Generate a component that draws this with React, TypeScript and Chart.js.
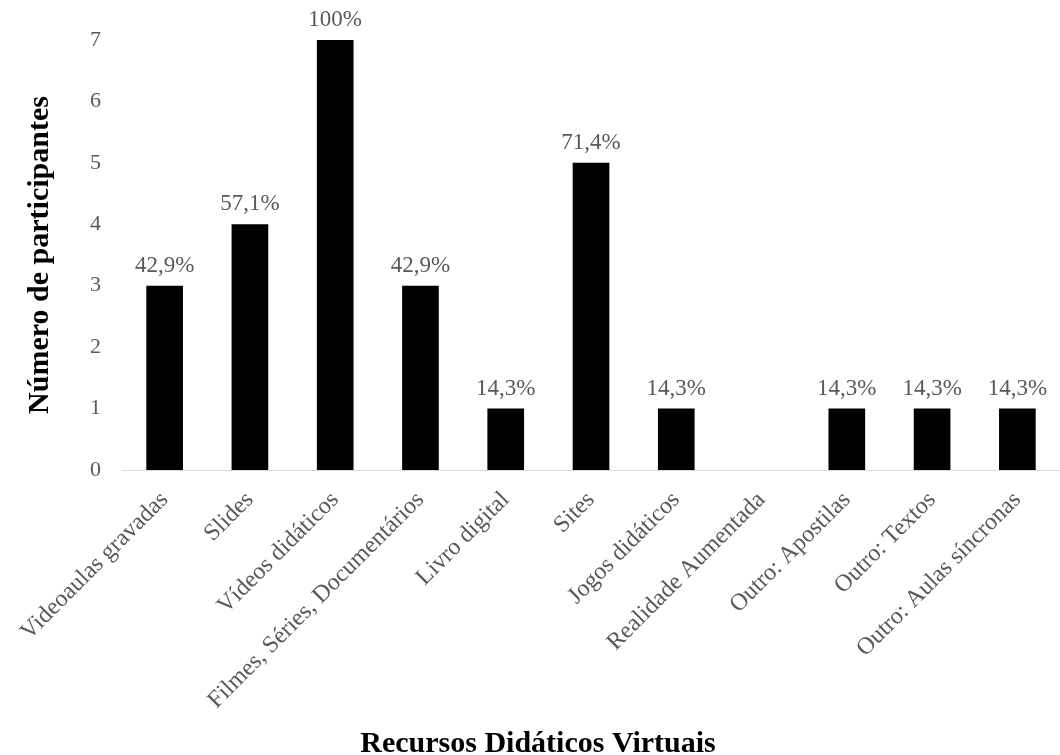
import React, { useEffect, useRef } from "react";
import { Chart, registerables } from "chart.js";

Chart.register(...registerables);

const categories = [
  "Videoaulas gravadas",
  "Slides",
  "Vídeos didáticos",
  "Filmes, Séries, Documentários",
  "Livro digital",
  "Sites",
  "Jogos didáticos",
  "Realidade Aumentada",
  "Outro: Apostilas",
  "Outro: Textos",
  "Outro: Aulas síncronas",
];
const participants = [3, 4, 7, 3, 1, 5, 1, 0, 1, 1, 1];
const percentLabels = ["42,9%", "57,1%", "100%", "42,9%", "14,3%", "71,4%", "14,3%", "", "14,3%", "14,3%", "14,3%"];
const yTicks = [0, 1, 2, 3, 4, 5, 6, 7];
const xTitle = "Recursos Didáticos Virtuais";
const yTitle = "Número de participantes";

const FONT = "'Liberation Serif', 'Times New Roman', serif";
const GREY = "#595959";

const dataLabelPlugin = {
  id: "dataLabels",
  afterDatasetsDraw(chart: any) {
    const ctx = chart.ctx;
    const meta = chart.getDatasetMeta(0);
    ctx.save();
    ctx.font = `23px ${FONT}`;
    ctx.fillStyle = GREY;
    ctx.textAlign = "center";
    ctx.textBaseline = "alphabetic";
    meta.data.forEach((bar: any, i: number) => {
      const t = percentLabels[i];
      if (!t) return;
      ctx.fillText(t, bar.x, bar.y - 14);
    });
    ctx.restore();
  },
};

const xTitlePlugin = {
  id: "xTitle",
  afterDraw(chart: any) {
    const ctx = chart.ctx;
    ctx.save();
    ctx.font = `bold 30px ${FONT}`;
    ctx.fillStyle = "#000000";
    ctx.textAlign = "center";
    ctx.textBaseline = "alphabetic";
    ctx.fillText(xTitle, 538, 752);
    ctx.restore();
  },
};

export default function App() {
  const ref = useRef<HTMLCanvasElement>(null);
  useEffect(() => {
    if (!ref.current) return;
    const chart = new Chart(ref.current, {
      type: "bar",
      data: {
        labels: categories,
        datasets: [
          {
            data: participants,
            backgroundColor: "#000000",
            borderColor: "#000000",
            borderWidth: 0,
            categoryPercentage: 1,
            barPercentage: 0.43,
          },
        ],
      },
      options: {
        animation: false,
        responsive: false,
        maintainAspectRatio: false,
        layout: { padding: { top: 40, right: 0, left: 0, bottom: 0 } },
        plugins: {
          legend: { display: false },
          tooltip: { enabled: false },
        },
        scales: {
          x: {
            grid: { display: false, drawTicks: false },
            border: { display: true, color: "#d9d9d9", width: 1 },
            ticks: {
              color: GREY,
              font: { family: FONT, size: 24 },
              maxRotation: 45,
              minRotation: 45,
              autoSkip: false,
              padding: 16,
            },
            afterFit: (scale: any) => {
              scale.height = 285;
            },
          },
          y: {
            min: 0,
            max: 7,
            grid: { display: false, drawTicks: false },
            border: { display: false },
            afterBuildTicks: (scale: any) => {
              scale.ticks = yTicks.map((v) => ({ value: v }));
            },
            ticks: {
              color: GREY,
              font: { family: FONT, size: 22 },
              padding: 21,
            },
            title: {
              display: true,
              text: yTitle,
              color: "#000000",
              font: { family: FONT, size: 30, weight: "bold" },
              padding: { top: 22, bottom: 0 },
            },
            afterFit: (scale: any) => {
              scale.width = 122;
            },
          },
        },
      },
      plugins: [dataLabelPlugin, xTitlePlugin],
    });
    return () => chart.destroy();
  }, []);
  return (
    <div style={{ position: "fixed", left: 0, top: 0, width: 1060, height: 755, background: "#fff" }}>
      <canvas ref={ref} width={1060} height={755} style={{ width: 1060, height: 755 }} />
    </div>
  );
}
